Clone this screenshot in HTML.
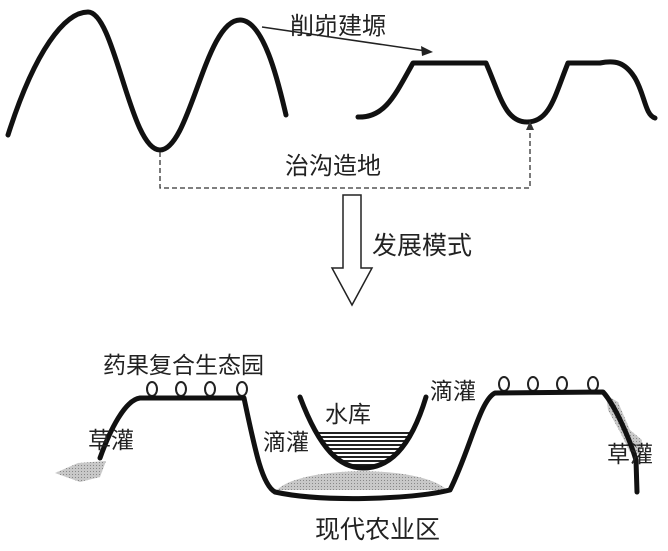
<!DOCTYPE html>
<html><head><meta charset="utf-8"><style>
body{margin:0;background:#fff;}
svg text{font-family:"Liberation Sans","Noto Sans CJK SC",sans-serif;fill:#222;}
</style></head><body>
<svg width="668" height="546" viewBox="0 0 668 546" xmlns="http://www.w3.org/2000/svg">
<defs>
<pattern id="h" width="4" height="4" patternUnits="userSpaceOnUse"><rect width="4" height="2" fill="#222"/></pattern>
<pattern id="d" width="3" height="3" patternUnits="userSpaceOnUse"><rect width="3" height="3" fill="#c8c8c8"/><rect width="1" height="1" fill="#888"/></pattern>
</defs>
<g fill="none" stroke="#111" stroke-width="5" stroke-linecap="round" stroke-linejoin="round">
<path d="M8,135 C35,50 65,12 88,12 C115,12 130,150 160,150 C190,150 205,20 240,20 C265,20 280,90 286,115"/>
<path d="M358,117 C385,118 395,95 413,63 L486,63 C500,95 505,122 527,122 C550,122 555,95 568,63 L600,63 C615,60 625,62 635,78 C645,95 645,115 655,118"/>
</g>
<line x1="262" y1="27" x2="426" y2="51" stroke="#222" stroke-width="1.5"/>
<path d="M433,52 L421,46 L422,56 Z" fill="#222"/>
<text x="290" y="34" font-size="24">削峁建塬</text>
<path d="M160,152 V188 H530 V128" fill="none" stroke="#333" stroke-width="1.3" stroke-dasharray="5,3"/>
<path d="M530,121 L526,130 L534,130 Z" fill="#333"/>
<text x="285" y="174" font-size="24">治沟造地</text>
<path d="M343,195 H361 V268 H372 L352,305 L332,268 H343 Z" fill="#fff" stroke="#222" stroke-width="1.5"/>
<text x="372" y="254" font-size="25">发展模式</text>
<text x="103" y="373" font-size="23">药果复合生态园</text>
<g fill="#fff" stroke="#222" stroke-width="2">
<ellipse cx="152" cy="389" rx="5" ry="7"/><ellipse cx="181" cy="389" rx="5" ry="7"/><ellipse cx="210" cy="389" rx="5" ry="7"/><ellipse cx="242" cy="389" rx="5" ry="7"/>
<ellipse cx="504" cy="384" rx="5" ry="7"/><ellipse cx="533" cy="384" rx="5" ry="7"/><ellipse cx="562" cy="384" rx="5" ry="7"/><ellipse cx="593" cy="384" rx="5" ry="7"/>
</g>
<path d="M55,473 L78,463 L106,461 L100,477 L80,482 Z" fill="url(#d)"/>
<path d="M606,395 L618,402 L630,430 L642,440 L640,455 L630,452 L620,432 L608,410 Z" fill="url(#d)"/>
<path d="M277,490 C300,466 420,464 447,490 Z" fill="url(#d)"/>
<path d="M318,432 H412 C400,460 385,468 363,468 C340,468 325,455 318,432 Z" fill="url(#h)"/>
<g fill="none" stroke="#111" stroke-width="5" stroke-linecap="round" stroke-linejoin="round">
<path d="M100,458 C110,430 125,400 140,398 L244,398 C255,450 262,485 275,492 C320,502 410,500 450,490 C470,450 480,400 495,393 L603,392 C615,405 630,440 636,460 L637,492"/>
<path d="M300,397 C320,450 340,468 363,468 C388,468 410,450 426,397"/>
</g>
<text x="325" y="422" font-size="23">水库</text>
<text x="263" y="450" font-size="23">滴灌</text>
<text x="430" y="399" font-size="23">滴灌</text>
<text x="88" y="448" font-size="23">草灌</text>
<text x="607" y="462" font-size="23">草灌</text>
<text x="315" y="538" font-size="25">现代农业区</text>
</svg>
</body></html>
